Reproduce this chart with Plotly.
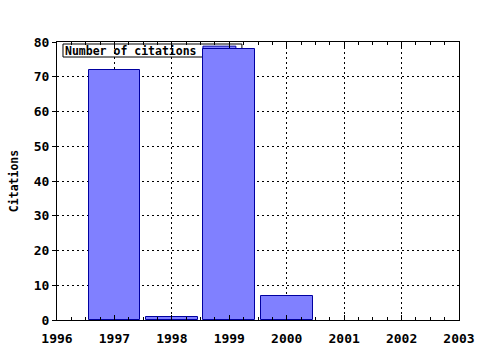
import plotly.graph_objects as go

years = [1997, 1998, 1999, 2000]
citations = [72, 1, 78, 7]
series_name = "Number of citations"
x_ticks = [1996, 1997, 1998, 1999, 2000, 2001, 2002, 2003]
y_ticks = [0, 10, 20, 30, 40, 50, 60, 70, 80]

font = dict(family="DejaVu Sans Mono", size=11.5, color="black", weight="bold")
tick_font = dict(family="DejaVu Sans Mono", size=13, color="black", weight="bold")

fig = go.Figure()
fig.add_trace(go.Bar(
    x=years, y=citations, width=0.9, name=series_name,
    marker=dict(color="#8080ff", line=dict(color="#0000a0", width=1)),
    showlegend=False,
))

# legend box drawn beneath bars (bars overlap it in the reference)
fig.add_shape(type="rect", xref="paper", yref="paper", x0=0.0149, x1=0.460, y0=0.946, y1=0.9928,
              fillcolor="white", line=dict(color="black", width=1), layer="between")
fig.add_shape(type="rect", xref="paper", yref="paper", x0=0.363, x1=0.445, y0=0.955, y1=0.985,
              fillcolor="#8080ff", line=dict(color="#0000a0", width=1), layer="between")
fig.add_annotation(text=series_name, xref="paper", yref="paper", x=0.014, y=0.969,
                   xanchor="left", yanchor="middle", showarrow=False, font=font)

fig.update_layout(
    width=480, height=350,
    margin=dict(l=57, r=21, t=42, b=30, autoexpand=False),
    paper_bgcolor="white", plot_bgcolor="white",
    font=font,
    bargap=0,
)
fig.update_xaxes(
    range=[1996, 2003], tickvals=x_ticks, ticktext=[str(v) for v in x_ticks],
    showline=True, linecolor="black", linewidth=1, mirror="ticks",
    ticks="inside", ticklen=5, tickcolor="black",
    showgrid=True, gridcolor="black", griddash="2px,3px", gridwidth=1,
    minor=dict(dtick=0.25, ticks="inside", ticklen=3, tickcolor="black", showgrid=False),
    zeroline=False, tickfont=tick_font, automargin=False, ticklabelstandoff=6,
)
fig.update_yaxes(
    range=[0, 80], tickvals=y_ticks,
    showline=True, linecolor="black", linewidth=1, mirror=True,
    ticks="outside", ticklen=4, tickcolor="black",
    showgrid=True, gridcolor="black", griddash="2px,3px", gridwidth=1,
    zeroline=False, tickfont=tick_font, automargin=False,
    title=dict(text="Citations", font=font, standoff=12),
)

fig.write_html("out.html")
